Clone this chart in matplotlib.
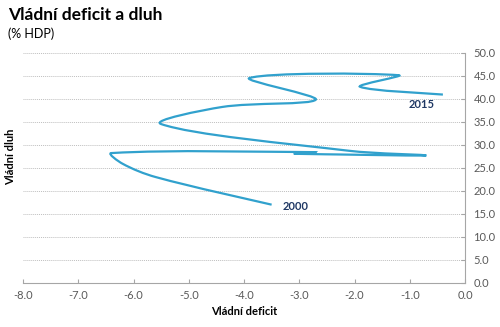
import matplotlib
matplotlib.use("Agg")
import matplotlib.pyplot as plt
import numpy as np
from matplotlib.path import Path
from matplotlib.patches import PathPatch

# Czech government deficit vs. debt (% of GDP), 2000-2015
years = [2000, 2001, 2002, 2003, 2004, 2005, 2006, 2007,
         2008, 2009, 2010, 2011, 2012, 2013, 2014, 2015]
deficit = [-3.5, -5.6, -6.2, -6.4, -2.7, -3.1, -2.3, -0.7,
           -2.1, -5.5, -4.4, -2.7, -3.9, -1.2, -1.9, -0.4]
debt = [17.0, 23.0, 25.9, 28.2, 28.4, 28.1, 27.9, 27.7,
        28.7, 34.5, 38.2, 39.8, 44.5, 45.1, 42.6, 40.9]

x_ticks = [-8.0, -7.0, -6.0, -5.0, -4.0, -3.0, -2.0, -1.0, 0.0]
y_ticks = [0, 5, 10, 15, 20, 25, 30, 35, 40, 45, 50]

line_color = "#31A1CD"
label_color = "#1F3864"
axis_color = "#A6A6A6"
text_gray = "#595959"

plt.rcParams['font.family'] = ['Lato', 'DejaVu Sans']


def smooth_path(ax, xs, ys):
    # smoothed line like Excel: cubic Bezier through every point,
    # tangents weighted by neighbouring segment lengths (in screen units)
    pts = ax.transData.transform(np.column_stack([xs, ys]))
    n = len(pts)
    tang = []
    for i in range(n):
        p0 = pts[max(i - 1, 0)]
        p2 = pts[min(i + 1, n - 1)]
        tang.append(p2 - p0)
    verts = [pts[0]]
    codes = [Path.MOVETO]
    for i in range(n - 1):
        p1, p2 = pts[i], pts[i + 1]
        d = np.linalg.norm(p2 - p1)
        d_prev = np.linalg.norm(p1 - pts[i - 1]) if i > 0 else d
        d_next = np.linalg.norm(pts[i + 2] - p2) if i + 2 < n else d
        c1 = p1 + tang[i] * d / (d + d_prev) / 3.0
        c2 = p2 - tang[i + 1] * d / (d + d_next) / 3.0
        verts += [c1, c2, p2]
        codes += [Path.CURVE4] * 3
    verts = ax.transData.inverted().transform(np.array(verts))
    return Path(verts, codes)


fig = plt.figure(figsize=(5, 3.27), dpi=100)
ax = fig.add_axes([0.046, 0.1346, 0.884, 0.7044])
ax.set_xlim(-8, 0)
ax.set_ylim(0, 50)

ax.add_patch(PathPatch(smooth_path(ax, deficit, debt), facecolor='none',
                       edgecolor=line_color, linewidth=1.6))

ax.set_xticks(x_ticks)
ax.set_xticklabels([f"{v:.1f}" for v in x_ticks])
ax.set_yticks(y_ticks)
ax.set_yticklabels([f"{v:.1f}" for v in y_ticks])

ax.yaxis.tick_right()
ax.tick_params(axis='both', direction='in', length=3, width=0.8,
               color=axis_color, labelsize=8, labelcolor=text_gray)
ax.tick_params(axis='x', pad=5)
ax.tick_params(axis='y', pad=6)

for side in ['top', 'left']:
    ax.spines[side].set_visible(False)
for side in ['bottom', 'right']:
    ax.spines[side].set_color(axis_color)
    ax.spines[side].set_linewidth(0.8)

ax.grid(axis='y', color='#BFBFBF', linestyle=(0, (1, 1)), linewidth=0.7)
ax.set_axisbelow(True)

ax.annotate("2000", (deficit[0], debt[0]), xytext=(1.0, -0.15),
            textcoords='offset fontsize', fontsize=8, fontweight='bold',
            color=label_color, va='center', ha='left')
ax.annotate("2015", (deficit[-1], debt[-1]), xytext=(-1.9, -0.9),
            textcoords='offset fontsize', fontsize=8, fontweight='bold',
            color=label_color, va='center', ha='center')

ax.set_xlabel("Vládní deficit", fontsize=8, fontweight='bold', labelpad=4)
fig.text(0.022, 0.52, "Vládní dluh", rotation=90, fontsize=8,
         fontweight='bold', ha='center', va='center')

fig.text(0.016, 0.955, "Vládní deficit a dluh", fontsize=12.5,
         fontweight='bold', ha='left', va='center')
fig.text(0.016, 0.897, "(% HDP)", fontsize=9, ha='left', va='center')

fig.savefig("out.png", dpi=100)
